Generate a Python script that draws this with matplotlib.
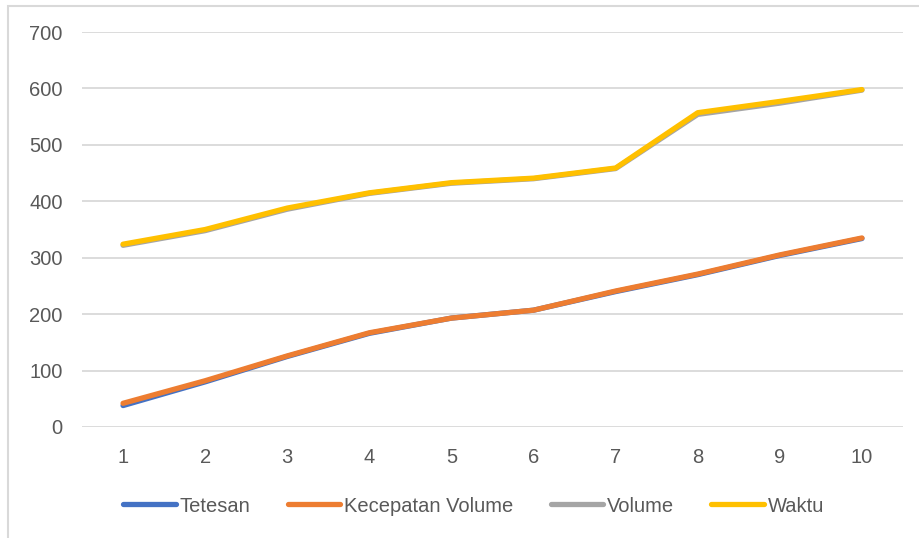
import matplotlib
matplotlib.use('Agg')
from matplotlib import pyplot
from matplotlib.patches import Rectangle

pyplot.rcParams['font.family'] = ['Liberation Sans', 'DejaVu Sans']

x = [1, 2, 3, 4, 5, 6, 7, 8, 9, 10]
tetesan = [38, 80, 125, 166, 193, 207, 240, 270, 304, 334]
kecepatan_volume = [42, 82, 126, 167, 193, 207, 241, 271, 305, 335]
volume = [322, 348, 386, 414, 432, 440, 458, 554, 574, 597]
waktu = [324, 350, 388, 415, 433, 441, 459, 557, 577, 598]

series = [('Tetesan', tetesan, '#4472C4'),
          ('Kecepatan Volume', kecepatan_volume, '#ED7D31'),
          ('Volume', volume, '#A5A5A5'),
          ('Waktu', waktu, '#FFC000')]

fig = pyplot.figure(figsize=[9.2, 5.38], dpi=100)
# chart area border
fig.patches.append(Rectangle((8/920, -0.1), 1.2, 1 - 6/538 + 0.1, transform=fig.transFigure,
                             fill=False, edgecolor='#D9D9D9', linewidth=1.5))

ax = fig.add_axes([82/920, 1 - 427/538, 821/920, 395/538])
for name, vals, col in series:
	ax.plot(x, vals, color=col, linewidth=3.8, solid_capstyle='round', solid_joinstyle='round', label=name)

ax.set_xlim(0.5, 10.5)
ax.set_ylim(0, 700)
ax.set_yticks(range(0, 701, 100))
ax.set_xticks(x)
ax.grid(axis='y', color='#D9D9D9', linewidth=1.3)
ax.set_axisbelow(True)
for s in ax.spines.values():
	s.set_visible(False)
ax.tick_params(length=0, labelsize=14.5, colors='#595959')
ax.tick_params(axis='x', pad=15)
ax.tick_params(axis='y', pad=14)

leg = fig.legend(loc='center', bbox_to_anchor=(0.515, 1 - 506/538), ncol=4, frameon=False,
                 fontsize=14.5, handlelength=2.6, handletextpad=0.2, columnspacing=1.85)
for t in leg.get_texts():
	t.set_color('#595959')

pyplot.savefig('out.png', dpi=100)
